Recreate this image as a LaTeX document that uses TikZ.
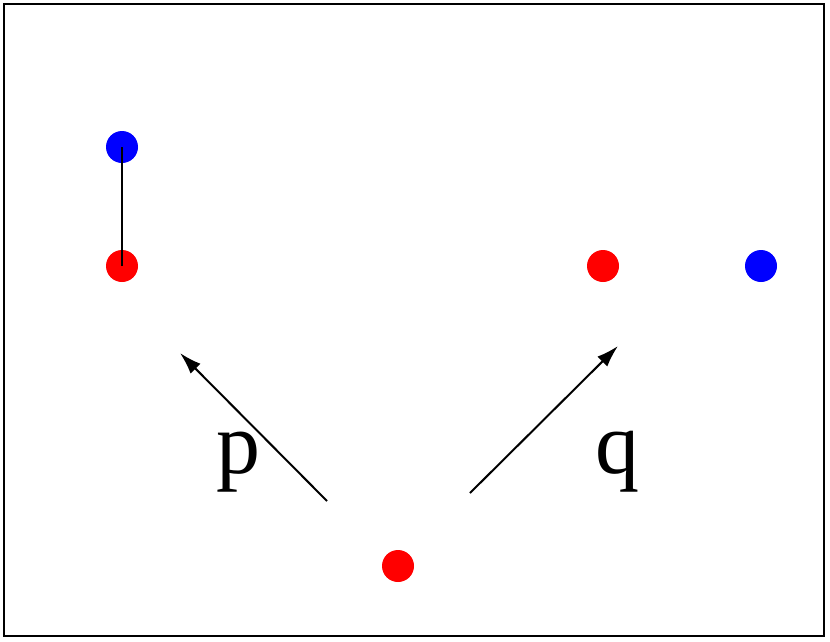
\documentclass[tikz,border=0pt]{standalone}
\usepackage{fontspec}
\setmainfont{Liberation Serif}
\usetikzlibrary{arrows.meta}
\begin{document}
\begin{tikzpicture}[x=1pt,y=-1pt,
  dot/.style={circle,inner sep=0pt,minimum size=32pt},
  arr/.style={line width=2pt,-{Latex[length=22pt,width=14pt]}},
  lbl/.style={font=\fontsize{88}{88}\selectfont,inner sep=0pt}]
\useasboundingbox (0,0) rectangle (830,641);
\draw[line width=2pt] (4,4) rectangle (824,636);
\node[dot,fill=blue] (b1) at (122,147) {};
\node[dot,fill=red] (r1) at (122,266) {};
\node[dot,fill=red] (r2) at (603,266) {};
\node[dot,fill=blue] (b2) at (761,266) {};
\node[dot,fill=red] (r3) at (398,566) {};
\draw[line width=2pt] (b1.center) -- (r1.center);
\coordinate (ps) at (327,501); \coordinate (pe) at (180,353);
\coordinate (qs) at (470,493); \coordinate (qe) at (618,346);
\draw[arr] (ps) -- (pe);
\draw[arr] (qs) -- (qe);
\node[lbl] (p) at (238,462) {p};
\node[lbl] (q) at (617,462) {q};
\end{tikzpicture}
\end{document}
